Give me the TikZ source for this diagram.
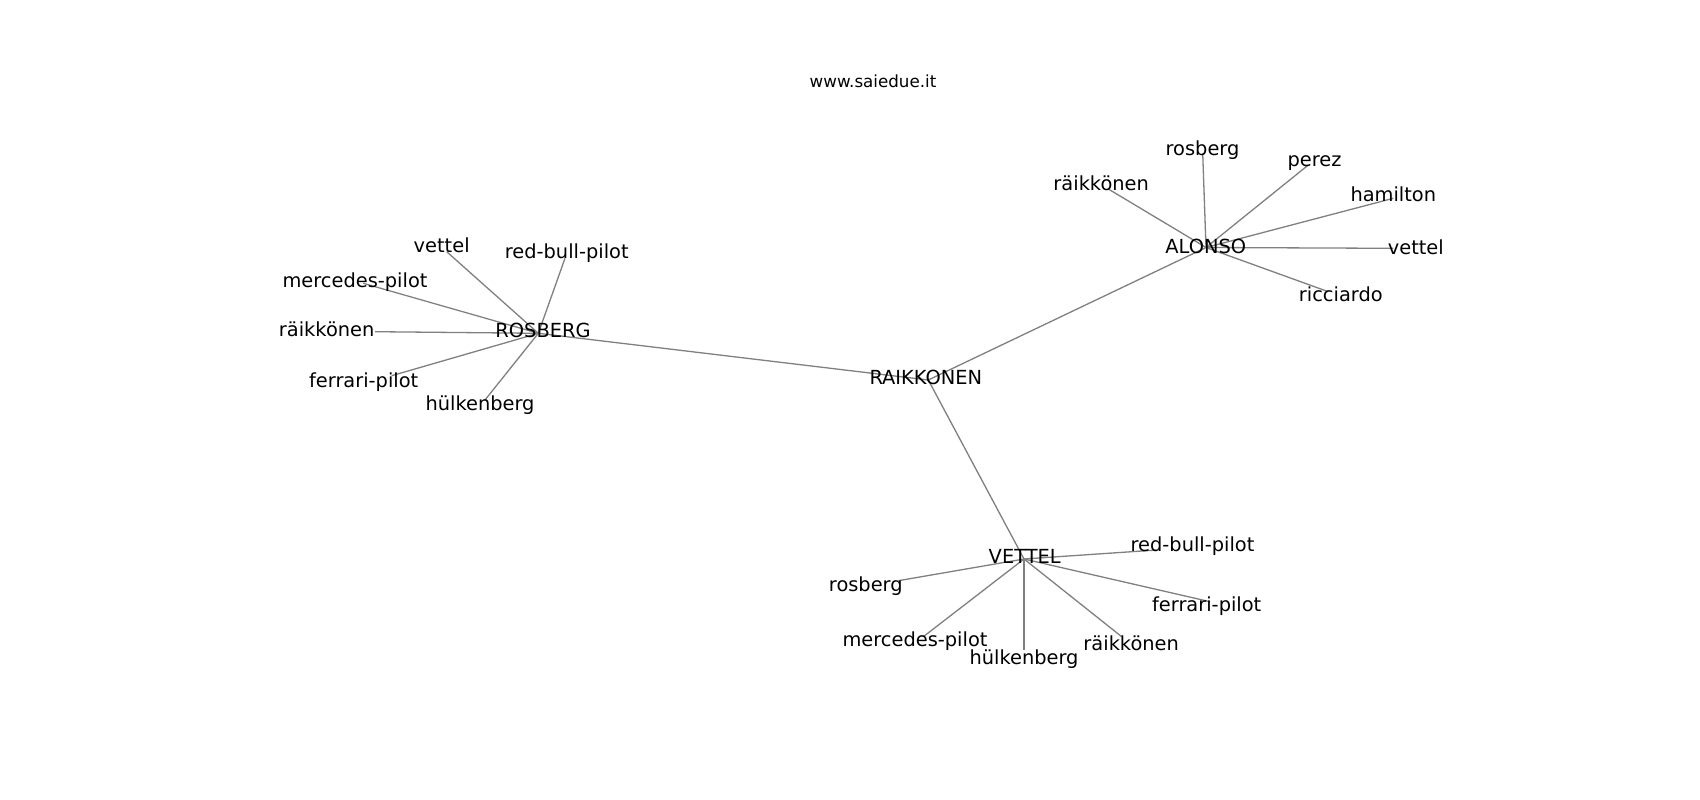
\documentclass[tikz,border=0pt]{standalone}
\usepackage{fontspec}
\setmainfont{DejaVu Sans}
\definecolor{edgegray}{RGB}{128,128,128}
\begin{document}
\begin{tikzpicture}[x=1pt,y=-1pt,
  lbl/.style={font=\fontsize{19.4}{23}\selectfont, anchor=base, inner sep=0pt, text=black},
  ttl/.style={font=\fontsize{16.7}{20}\selectfont, anchor=base, inner sep=0pt, text=black},
  edge/.style={draw=edgegray, line width=1.3pt}]
\path[use as bounding box, fill=white] (0,0) rectangle (1700,800);
% vertex positions
\coordinate (rai) at (928.3,380);
\coordinate (ros) at (538.3,333.3);
\coordinate (alo) at (1206,247.5);
\coordinate (vet) at (1024,559);
% ROSBERG leaves
\coordinate (rosA) at (446.7,251.7);
\coordinate (rosB) at (565,258.3);
\coordinate (rosC) at (363.3,283.3);
\coordinate (rosD) at (375,331.7);
\coordinate (rosE) at (391.7,375.7);
\coordinate (rosF) at (485,400);
% ALONSO leaves
\coordinate (aloA) at (1202.7,153.3);
\coordinate (aloB) at (1108.3,189);
\coordinate (aloC) at (1308.3,165);
\coordinate (aloD) at (1393.3,198.3);
\coordinate (aloE) at (1393.3,248.3);
\coordinate (aloF) at (1328.3,291.7);
% VETTEL leaves
\coordinate (vetA) at (1156.7,550);
\coordinate (vetB) at (898.3,580.7);
\coordinate (vetC) at (1210,601.7);
\coordinate (vetD) at (923.3,636.7);
\coordinate (vetE) at (1024,650);
\coordinate (vetF) at (1121.7,636.7);
% edges
\draw[edge] (ros) -- (rai);
\draw[edge] (rai) -- (alo);
\draw[edge] (rai) -- (vet);
\foreach \l in {rosA,rosB,rosC,rosD,rosE,rosF} \draw[edge] (ros) -- (\l);
\foreach \l in {aloA,aloB,aloC,aloD,aloE,aloF} \draw[edge] (alo) -- (\l);
\foreach \l in {vetA,vetB,vetC,vetD,vetE,vetF} \draw[edge] (vet) -- (\l);
% labels
\node[ttl] (title) at (873,88) {www.saiedue.it};
\node[lbl] (lrai) at (925.8,384) {RAIKKONEN};
\node[lbl] (lros) at (543,337.3) {ROSBERG};
\node[lbl] (lalo) at (1205.8,253.3) {ALONSO};
\node[lbl] (lvet) at (1024.7,563.3) {VETTEL};
\node[lbl] (lrosA) at (441.7,252.7) {vettel};
\node[lbl] (lrosB) at (566.7,258.8) {red-bull-pilot};
\node[lbl] (lrosC) at (355,287.3) {mercedes-pilot};
\node[lbl] (lrosD) at (326.7,336.7) {räikkönen};
\node[lbl] (lrosE) at (363.7,387.3) {ferrari-pilot};
\node[lbl] (lrosF) at (480,410) {hülkenberg};
\node[lbl] (laloA) at (1202.5,155) {rosberg};
\node[lbl] (laloB) at (1101.2,190) {räikkönen};
\node[lbl] (laloC) at (1314.5,166) {perez};
\node[lbl] (laloD) at (1393.3,201.7) {hamilton};
\node[lbl] (laloE) at (1415.8,254) {vettel};
\node[lbl] (laloF) at (1340.8,301.7) {ricciardo};
\node[lbl] (lvetA) at (1192.5,551.7) {red-bull-pilot};
\node[lbl] (lvetB) at (865.8,591.7) {rosberg};
\node[lbl] (lvetC) at (1206.7,611) {ferrari-pilot};
\node[lbl] (lvetD) at (915,646.7) {mercedes-pilot};
\node[lbl] (lvetE) at (1024,664.3) {hülkenberg};
\node[lbl] (lvetF) at (1131.2,650.7) {räikkönen};
\end{tikzpicture}
\end{document}
